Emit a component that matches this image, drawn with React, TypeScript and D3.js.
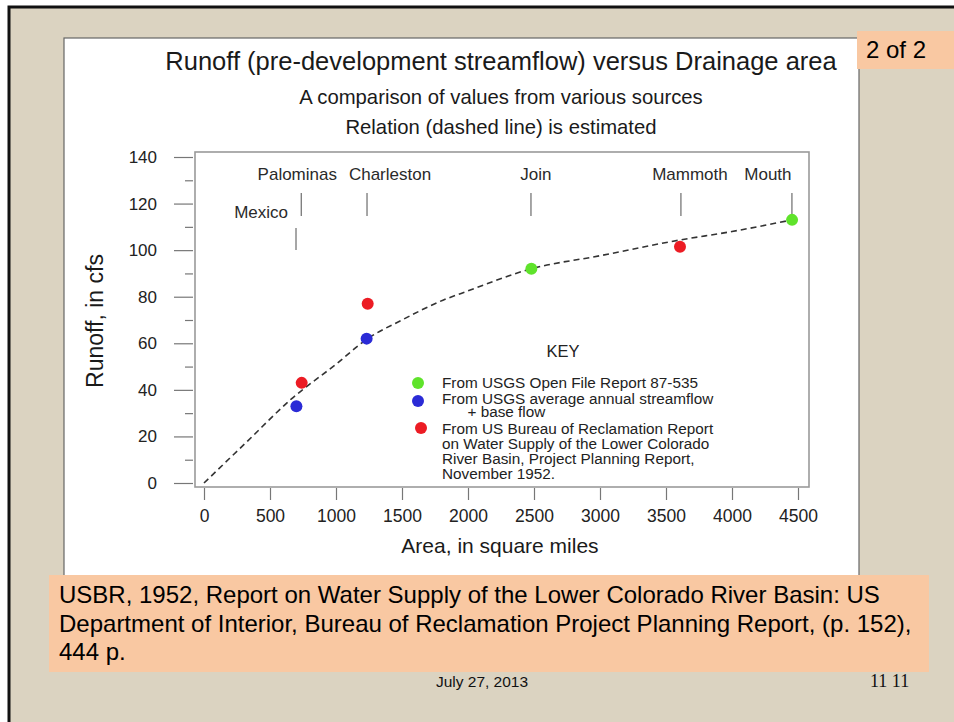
import { useEffect, useRef } from "react";
import * as d3 from "d3";

// sources of the points
const openFilePts: [number, number][] = [[2480, 92], [4455, 113]];
const avgFlowPts: [number, number][] = [[700, 33], [1232, 62]];
const usbrPts: [number, number][] = [[740, 43], [1240, 77], [3606, 101.5]];

// estimated relation (dashed line)
const relation: [number, number][] = [
  [0, 0], [330, 18], [660, 36], [1000, 51], [1240, 62], [1500, 70], [1810, 78.5],
  [2000, 82.5], [2480, 92], [3000, 97.6], [3600, 104.3], [4000, 108], [4455, 113],
];

const siteNames = ["Mexico", "Palominas", "Charleston", "Join", "Mammoth", "Mouth"];
const siteAreas = [697, 737, 1235, 2477, 3613, 4454];

const xTicks = [0, 500, 1000, 1500, 2000, 2500, 3000, 3500, 4000, 4500];
const yTicks = [0, 20, 40, 60, 80, 100, 120, 140];
const yMinor = [10, 30, 50, 70, 90, 110, 130];

const keyLabels = [
  ["From USGS Open File Report 87-535"],
  ["From USGS average annual streamflow", "      + base flow"],
  ["From US Bureau of Reclamation Report", "on Water Supply of the Lower Colorado", "River Basin, Project Planning Report,", "November 1952."],
];
const keyColors = ["#5fe32b", "#2b2bd6", "#ec1c24"];

const citation = [
  "USBR, 1952, Report on Water Supply of the Lower Colorado River Basin: US",
  "Department of Interior, Bureau of Reclamation Project Planning Report, (p. 152),",
  "444 p.",
];

const FONT = "'Liberation Sans', Arial, sans-serif";

function App() {
  const ref = useRef<SVGSVGElement>(null);

  useEffect(() => {
    const svg = d3.select(ref.current);
    svg.selectAll("*").remove();

    // slide background
    svg.append("rect").attr("width", 954).attr("height", 722).attr("fill", "#ffffff");
    svg.append("rect").attr("x", 9).attr("y", 7).attr("width", 960).attr("height", 730)
      .attr("fill", "#dbd3c1").attr("stroke", "#111").attr("stroke-width", 3);

    // white image panel
    svg.append("rect").attr("x", 64).attr("y", 38).attr("width", 795).attr("height", 540)
      .attr("fill", "#fff").attr("stroke", "#666").attr("stroke-width", 1.2);

    const x = d3.scaleLinear().domain([0, 4500]).range([204, 798]);
    const y = d3.scaleLinear().domain([0, 140]).range([483, 157]);

    // titles
    const titles = [
      { t: "Runoff (pre-development streamflow) versus Drainage area", y: 70, s: 25.5 },
      { t: "A comparison of values from various sources", y: 104, s: 20.3 },
      { t: "Relation (dashed line) is estimated", y: 134, s: 20.3 },
    ];
    titles.forEach(d => {
      svg.append("text").attr("x", 501).attr("y", d.y).attr("text-anchor", "middle")
        .attr("font-family", FONT).attr("font-size", d.s).attr("fill", "#1a1a1a").text(d.t);
    });

    // plot frame
    svg.append("rect").attr("x", 195).attr("y", 152).attr("width", 614).attr("height", 335)
      .attr("fill", "none").attr("stroke", "#9a9a9a").attr("stroke-width", 1.6);

    // y axis
    const gy = svg.append("g").attr("transform", "translate(193,0)")
      .call(d3.axisLeft(y).tickValues(yTicks).tickSize(19).tickPadding(17));
    gy.select(".domain").remove();
    gy.selectAll("line").attr("stroke", "#777").attr("stroke-width", 1.2);
    gy.selectAll("text").attr("font-family", FONT).attr("font-size", 17).attr("fill", "#222");
    const gyMinor = svg.append("g").attr("transform", "translate(193,0)")
      .call(d3.axisLeft(y).tickValues(yMinor).tickSize(8).tickFormat(() => ""));
    gyMinor.select(".domain").remove();
    gyMinor.selectAll("line").attr("stroke", "#777").attr("stroke-width", 1.2);

    // x axis
    const gx = svg.append("g").attr("transform", "translate(0,488)")
      .call(d3.axisBottom(x).tickValues(xTicks).tickSize(12).tickPadding(10).tickFormat(d3.format("d")));
    gx.select(".domain").remove();
    gx.selectAll("line").attr("stroke", "#777").attr("stroke-width", 1.2);
    gx.selectAll("text").attr("font-family", FONT).attr("font-size", 17.5).attr("fill", "#222");

    // axis titles
    svg.append("text").attr("transform", "translate(103,321) rotate(-90)").attr("text-anchor", "middle")
      .attr("font-family", FONT).attr("font-size", 23).attr("fill", "#1a1a1a").text("Runoff, in cfs");
    svg.append("text").attr("x", 500).attr("y", 553).attr("text-anchor", "middle")
      .attr("font-family", FONT).attr("font-size", 21).attr("fill", "#1a1a1a").text("Area, in square miles");

    // site markers
    const labelDx = [-8, -4, 23, 5, 9, -24];
    siteNames.forEach((name, i) => {
      const sx = x(siteAreas[i]);
      const isMexico = i === 0;
      svg.append("line").attr("x1", sx).attr("x2", sx)
        .attr("y1", isMexico ? 228 : 193).attr("y2", isMexico ? 250 : (i === 5 ? 219 : 216))
        .attr("stroke", "#777").attr("stroke-width", 1.3);
      svg.append("text").attr("x", sx + labelDx[i]).attr("y", isMexico ? 218 : 180)
        .attr("text-anchor", isMexico ? "end" : "middle")
        .attr("font-family", FONT).attr("font-size", 17).attr("fill", "#2a2a2a").text(name);
    });

    // relation line
    svg.append("path").datum(relation)
      .attr("fill", "none").attr("stroke", "#333").attr("stroke-width", 1.6)
      .attr("stroke-dasharray", "6,4")
      .attr("d", d3.line<[number, number]>()
        .x(d => x(d[0])).y(d => y(d[1])).curve(d3.curveMonotoneX));

    // points
    [openFilePts, avgFlowPts, usbrPts].forEach((pts, i) => {
      svg.append("g").selectAll("circle").data(pts).enter().append("circle")
        .attr("cx", d => x(d[0])).attr("cy", d => y(d[1])).attr("r", 6)
        .attr("fill", keyColors[i]);
    });

    // key
    svg.append("text").attr("x", 563).attr("y", 357).attr("text-anchor", "middle")
      .attr("font-family", FONT).attr("font-size", 16.5).attr("fill", "#222").text("KEY");
    const keyDotY = [383, 401, 428];
    const keyLineY = [[388], [404, 417], [434, 449, 464, 479]];
    keyLabels.forEach((lines, i) => {
      svg.append("circle").attr("cx", i === 2 ? 421 : 418).attr("cy", keyDotY[i]).attr("r", 6)
        .attr("fill", keyColors[i]);
      lines.forEach((l, j) => {
        svg.append("text").attr("x", 442).attr("y", keyLineY[i][j]).attr("xml:space", "preserve")
          .attr("font-family", FONT).attr("font-size", 15.3).attr("fill", "#222")
          .style("white-space", "pre").text(l);
      });
    });

    // "2 of 2" tag
    svg.append("rect").attr("x", 857).attr("y", 31).attr("width", 97).attr("height", 38).attr("fill", "#f9c8a2");
    svg.append("text").attr("x", 866).attr("y", 58).attr("font-family", FONT).attr("font-size", 24)
      .attr("fill", "#000").text("2 of 2");

    // citation box
    svg.append("rect").attr("x", 49).attr("y", 575).attr("width", 880).attr("height", 97).attr("fill", "#f9c8a2");
    citation.forEach((t, i) => {
      svg.append("text").attr("x", 59).attr("y", 603 + i * 28.5).attr("font-family", FONT)
        .attr("font-size", 24).attr("fill", "#000").text(t);
    });

    // footer
    svg.append("text").attr("x", 482).attr("y", 687).attr("text-anchor", "middle").attr("font-family", FONT)
      .attr("font-size", 15.5).attr("fill", "#111").text("July 27, 2013");
    svg.append("text").attr("x", 870).attr("y", 687).attr("font-family", "'Liberation Serif', 'Times New Roman', serif")
      .attr("font-size", 18).attr("fill", "#111").text("11 11");
  });

  return (
    <svg ref={ref} width={954} height={722}
      style={{ position: "absolute", left: 0, top: 0, display: "block" }} />
  );
}

export default App;
